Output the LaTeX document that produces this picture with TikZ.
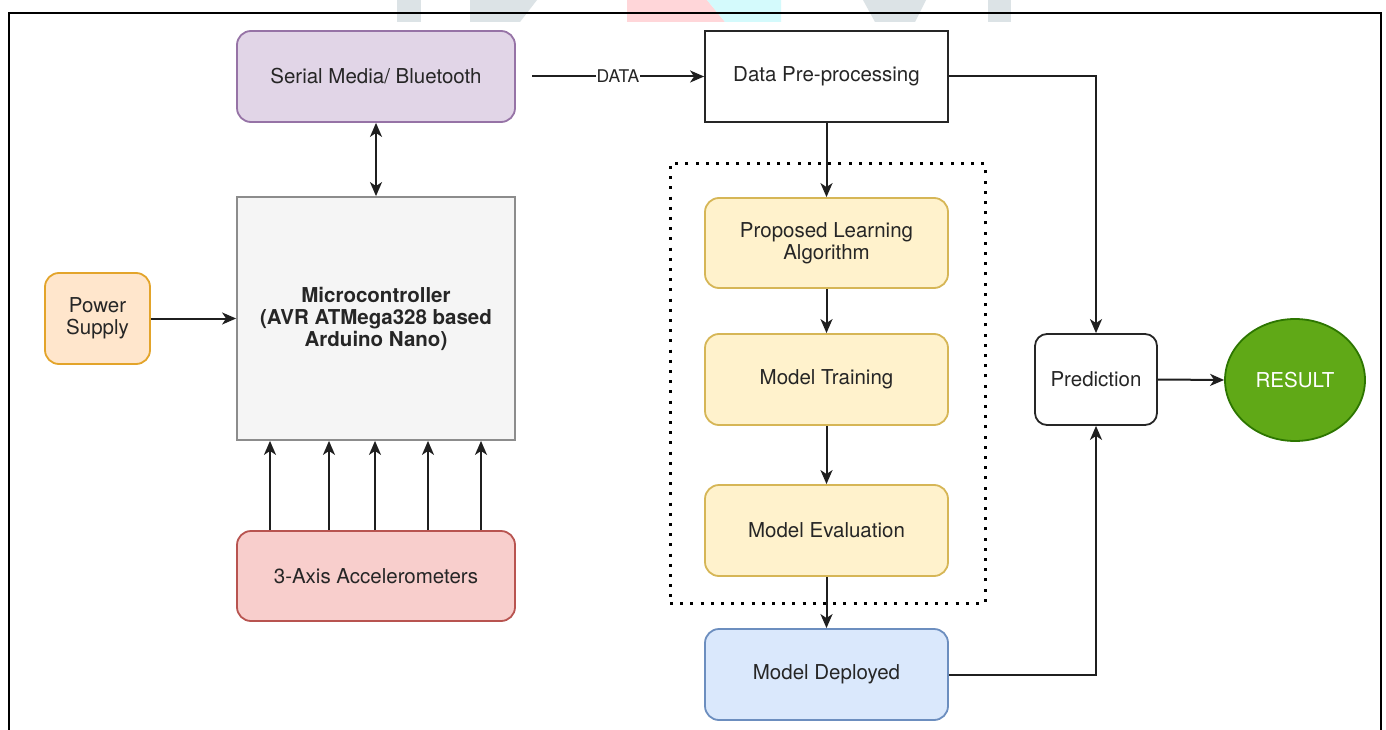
\documentclass[tikz,border=0pt]{standalone}
\usepackage{fontspec}
\setmainfont{TeX Gyre Heros}
\usetikzlibrary{arrows.meta,shapes.geometric}
\definecolor{txt}{HTML}{262626}
\definecolor{purfill}{HTML}{E1D5E7}\definecolor{purline}{HTML}{9673A6}
\definecolor{grfill}{HTML}{F5F5F5}\definecolor{grline}{HTML}{8C8C8C}
\definecolor{orfill}{HTML}{FFE6CC}\definecolor{orline}{HTML}{E3A42A}
\definecolor{redfill}{HTML}{F8CECC}\definecolor{redline}{HTML}{B85450}
\definecolor{yelfill}{HTML}{FFF2CC}\definecolor{yelline}{HTML}{D6B656}
\definecolor{blufill}{HTML}{DAE8FC}\definecolor{bluline}{HTML}{6C8EBF}
\definecolor{resfill}{HTML}{60A917}\definecolor{resline}{HTML}{2D7600}
\definecolor{wmgray}{HTML}{DCE3E6}\definecolor{wmpink}{HTML}{FFD6D9}\definecolor{wmcyan}{HTML}{D4FAFC}
\begin{document}
\begin{tikzpicture}[x=1pt,y=-1pt,
  every node/.style={font=\fontsize{20.5}{22}\selectfont, text=txt, align=center, line width=1.8pt},
  box/.style={draw, rectangle, rounded corners=14pt, minimum width=#1, inner sep=0pt},
  box/.default=243pt,
  tip/.style={},
  arr/.style={line width=2pt, draw=black!88, -{Stealth[length=14pt,width=12pt,inset=4pt]}},
  biarr/.style={line width=2pt, draw=black!88, {Stealth[length=14pt,width=12pt,inset=4pt]}-{Stealth[length=14pt,width=12pt,inset=4pt]}}
]
\useasboundingbox (0,0) rectangle (1386,730);
\clip (0,0) rectangle (1386,730);
\fill[white] (0,0) rectangle (1386,730);
% faint watermark remnants
\fill[wmgray] (397,0) rectangle (421,22);
\fill[wmgray] (470,0) -- (537,0) -- (520,22) -- (470,22) -- cycle;
\fill[wmpink] (627,0) -- (707,0) -- (725,22) -- (627,22) -- cycle;
\fill[wmcyan] (707,0) -- (781,0) -- (781,22) -- (725,22) -- cycle;
\fill[wmgray] (863,0) -- (926,0) -- (915,22) -- (875,22) -- cycle;
\fill[wmgray] (988,0) rectangle (1011,22);
% outer frame
\draw[line width=2.5pt, black] (9,740) -- (9,13) -- (1381,13) -- (1381,740);
% nodes
\node[box=278pt, minimum height=91pt, fill=purfill, draw=purline] (ser) at (376,76.5) {Serial Media/ Bluetooth};
\node[draw=black!85, rectangle, minimum width=243pt, minimum height=91pt, fill=white] (dpp) at (826.5,76.5) {Data Pre-processing};
\node[draw=grline, rectangle, minimum width=278pt, minimum height=243pt, fill=grfill, font=\bfseries\fontsize{20.5}{22}\selectfont] (mcu) at (376,318.5) {Microcontroller\\(AVR ATMega328 based\\Arduino Nano)};
\node[box=105pt, minimum height=91pt, fill=orfill, draw=orline] (pwr) at (97.5,318.5) {Power\\Supply};
\node[box=278pt, minimum height=90pt, fill=redfill, draw=redline] (acc) at (376,576) {3-Axis Accelerometers};
\node[box, minimum height=90pt, fill=yelfill, draw=yelline] (pla) at (826.5,243) {Proposed Learning\\Algorithm};
\node[box, minimum height=91pt, fill=yelfill, draw=yelline] (mt) at (826.5,379.5) {Model Training};
\node[box, minimum height=91pt, fill=yelfill, draw=yelline] (me) at (826.5,530.5) {Model Evaluation};
\node[box, minimum height=91pt, fill=blufill, draw=bluline] (md) at (826.5,674.5) {Model Deployed};
\node[box=122pt, rounded corners=12pt, minimum height=91pt, fill=white, draw=black!85] (pred) at (1096,379.5) {Prediction};
\node[ellipse, minimum width=140pt, minimum height=122pt, inner sep=0pt, fill=resfill, draw=resline, text=white] (res) at (1295,380) {RESULT};
% dotted group
\node[draw=black, line width=3pt, dash pattern=on 3pt off 7.2pt, rectangle, minimum width=315pt, minimum height=439pt, fill=none] (grp) at (827.5,383.5) {};
% connectors
\coordinate (dstart) at (532,76.5);
\draw[arr] (dstart) -- node[fill=white, inner sep=1pt, font=\fontsize{17.5}{18}\selectfont] {DATA} (dpp.west);
\draw[biarr] (ser.south) -- (mcu.north);
\draw[arr] (pwr.east) -- (mcu.west);
\foreach \xx in {270,329,375,428,481}{
  \draw[arr] (acc.north -| \xx,0) -- (mcu.south -| \xx,0);
}
\draw[arr] (dpp.south) -- (pla.north);
\draw[arr] (pla.south) -- (mt.north);
\draw[arr] (mt.south) -- (me.north);
\draw[arr] (me.south) -- (md.north);
\draw[arr] (dpp.east) -| (pred.north);
\draw[arr] (md.east) -| (pred.south);
\draw[arr] (pred.east) -- (res.west);
\end{tikzpicture}
\end{document}
